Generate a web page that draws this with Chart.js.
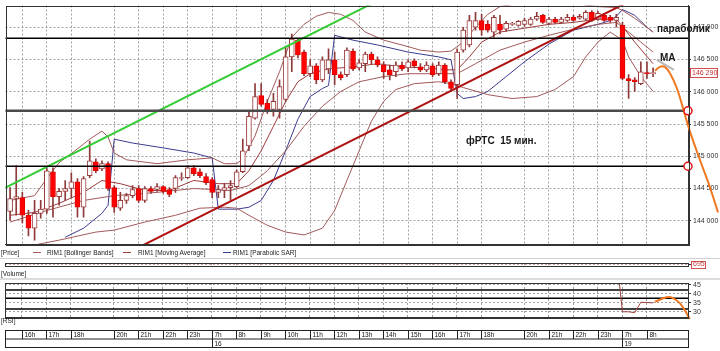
<!DOCTYPE html>
<html>
<head>
<meta charset="utf-8">
<script src="https://cdn.jsdelivr.net/npm/chart.js@4.4.1/dist/chart.umd.min.js"></script>
<style>
  body { margin: 0; background: #fff; }
  #wrap { position: relative; width: 720px; height: 351px; overflow: hidden; font-family: "Liberation Sans", Arial, sans-serif; }
  canvas { position: absolute; left: 0; }
  .t { position: absolute; font-size: 6.5px; line-height: 7px; color: #222; white-space: pre; }
  .note { position: absolute; font-size: 10px; line-height: 11px; font-weight: bold; color: #1a1a1a; white-space: pre; }
  .sep { position: absolute; left: 0; width: 720px; height: 1px; background: #d0d0d0; }
  .lg { position: absolute; width: 8px; height: 1px; }
</style>
</head>
<body>
<div id="wrap">
  <div class="sep" style="top:258px"></div>
  <div class="sep" style="top:278px;height:2px;background:#dcdcdc"></div>
  <canvas id="price" width="720" height="250" style="top:0;width:720px;height:250px"></canvas>
  <div class="t" style="left:1px;top:249px">[Price]</div>
  <div class="lg" style="left:33px;top:252px;background:#a35a5a"></div>
  <div class="t" style="left:47px;top:249px">RIM1 [Bollinger Bands]</div>
  <div class="lg" style="left:123px;top:252px;background:#9c3d3d"></div>
  <div class="t" style="left:138px;top:249px">RIM1 [Moving Average]</div>
  <div class="lg" style="left:223px;top:252px;background:#3b3b8f"></div>
  <div class="t" style="left:233px;top:249px">RIM1 [Parabolic SAR]</div>
  <canvas id="vol" width="720" height="14" style="top:256px;width:720px;height:14px"></canvas>
  <div class="t" style="left:1px;top:270px">[Volume]</div>
  <canvas id="rsi" width="720" height="71" style="top:280px;width:720px;height:71px"></canvas>
  <div class="t" style="left:1px;top:317px">[RSI]</div>
  <div class="note" style="left:657px;top:23px">параболик</div>
  <div class="note" style="left:660px;top:52px">МА</div>
  <div class="note" style="left:466px;top:135px">фРТС  15 мин.</div>
</div>
<script>
// 15 min candles, x = candle number
var xMin = -0.75, xMax = 110.7;
var hourIdx = [2, 6, 10, 17, 21, 25, 29, 33, 37, 41, 45, 49, 53, 57, 61, 65, 69, 73, 77, 84, 88, 92, 96, 100, 104];
var hourLabels = ['16h', '17h', '18h', '20h', '21h', '22h', '23h', '7h', '8h', '9h', '10h', '11h', '12h', '13h', '14h', '15h', '16h', '17h', '18h', '20h', '21h', '22h', '23h', '7h', '8h'];
var dayIdx = [33, 100];
var dayLabels = ['16', '19'];
var priceTicks = [144000, 144500, 145000, 145500, 146000, 146500, 147000];
var rsiTicks = [30, 35, 40, 45];

var opens = [144145,144345,144360,144085,143885,144115,144180,144760,144375,144455,
  144500,144605,144210,144700,144915,144805,144885,144515,144195,144315,
  144390,144500,144315,144500,144485,144530,144485,144500,144655,144670,
  144820,144760,144685,144640,144440,144470,144515,144530,144760,145160,
  145590,145940,145820,145725,145725,145880,146540,146800,146615,146280,
  146400,146185,146355,146495,146265,146265,146630,146370,146435,146585,
  146495,146415,146340,146310,146415,146370,146480,146385,146340,146400,
  146280,146415,146155,146110,146645,146725,147000,147105,147045,146925,
  147045,146970,147045,147030,147045,147045,147125,147185,147060,147125,
  147075,147105,147155,147140,147125,147230,147125,147185,147155,147105,
  147030,146205,146185,146125,146295,146280];
var highs = [144515,144855,144440,144160,144315,144315,144820,144820,144500,144625,
  144745,144655,144685,145235,144960,144930,144915,144545,144440,144425,
  144545,144545,144530,144530,144575,144545,144515,144700,144745,144855,
  144855,144805,144730,144670,144545,144575,144625,144790,145265,145695,
  146125,146125,145880,145975,146185,146695,146895,146830,146645,146495,
  146435,146540,146665,146615,146310,146680,146665,146495,146615,146615,
  146540,146465,146415,146465,146465,146495,146510,146435,146465,146435,
  146465,146435,146185,146665,147000,147185,147230,147200,147105,147185,
  147185,147090,147075,147105,147140,147155,147230,147200,147155,147155,
  147155,147200,147185,147200,147260,147260,147245,147215,147185,147200,
  147075,146265,146220,146465,146465,146370];
var lows = [144010,144085,143965,143765,143700,144040,144115,144055,144240,144315,
  144360,144055,144055,144670,144745,144775,144470,144130,144160,144270,
  144360,144285,144285,144425,144455,144425,144375,144440,144625,144655,
  144700,144670,144560,144360,144360,144360,144315,144515,144745,145085,
  145575,145775,145665,145620,145590,145850,146310,146525,146250,146235,
  146125,146155,146280,146110,146185,146235,146325,146340,146310,146435,
  146385,146205,146185,146235,146325,146310,146370,146310,146310,146235,
  146250,146125,146005,145895,146615,146695,146955,146875,146925,146845,
  146895,146940,147030,147015,147015,147030,147105,147060,147045,147060,
  147060,147090,147090,147125,147105,147090,147105,147090,147075,147000,
  146185,145895,146005,146110,146205,146235];
var closes = [144345,144375,144085,143885,144115,144180,144775,144375,144455,144500,
  144605,144210,144655,144930,144775,144885,144500,144210,144315,144390,
  144485,144315,144500,144455,144530,144455,144410,144670,144670,144820,
  144730,144700,144590,144440,144485,144515,144545,144760,145085,145620,
  145925,145805,145710,145850,146080,146540,146815,146570,146280,146400,
  146185,146495,146495,146265,146220,146645,146355,146450,146585,146495,
  146415,146310,146265,146415,146355,146465,146400,146340,146415,146265,
  146415,146155,146050,146615,146955,147105,147105,146955,146955,147155,
  146955,147060,147060,147090,147105,147125,147170,147075,147125,147075,
  147125,147155,147105,147170,147230,147105,147215,147105,147105,147155,
  146205,146170,146155,146310,146280,146290];

// indicators: [candle, price]
var bbUpper = [[0,144315],[4,144390],[6,144655],[8,144900],[11,145115],[13,145265],[15,145390],[16,145300],[17,145050],[19,144945],[24,144885],[29,144945],[33,144975],[35,144885],[37,144885],[38,144960],[40,145315],[42,145850],[44,146310],[46,146845],[48,147045],[50,147170],[52,147230],[54,147200],[56,147105],[58,146925],[61,146800],[64,146725],[67,146645],[70,146615],[72,146630],[74,146770],[76,147000],[78,147200],[80,147320],[84,147385],[88,147400],[92,147370],[96,147320],[99,147305],[100,147260],[102,147140],[105,146925]];
var bbMid = [[0,143980],[6,144160],[12,144315],[17,144390],[24,144440],[30,144500],[36,144470],[39,144545],[42,144775],[45,145085],[48,145465],[51,145775],[54,146005],[57,146155],[61,146235],[65,146280],[70,146280],[73,146280],[76,146435],[80,146645],[84,146770],[88,146875],[92,146970],[96,147045],[99,147075],[101,146925],[103,146770],[105,146615]];
var bbLower = [[0,143550],[8,143700],[14,143825],[17,143855],[22,143980],[27,144085],[31,144195],[35,144210],[37,144195],[39,144085],[42,143930],[45,143825],[48,143780],[51,143885],[53,144160],[55,144625],[57,145085],[59,145545],[61,145850],[63,146035],[66,146125],[70,146155],[72,146125],[74,146065],[78,145955],[82,145895],[86,145925],[89,146035],[92,146235],[94,146540],[96,146770],[98,146925],[100,146800],[101,146540],[103,146235],[105,146005]];
var maLine = [[0,144085],[4,144130],[8,144270],[12,144440],[15,144625],[18,144575],[22,144470],[26,144470],[30,144625],[34,144575],[37,144575],[39,144775],[41,145085],[43,145465],[45,145850],[47,146155],[49,146280],[52,146355],[56,146385],[60,146435],[64,146385],[68,146370],[71,146340],[73,146340],[75,146540],[77,146770],[80,146925],[84,146985],[88,147045],[92,147075],[96,147125],[99,147125],[100,147015],[102,146770],[105,146435]];
var sar = [[9,143745],[12,143885],[15,144115],[16,144240],[17,145265],[20,145205],[25,145130],[30,145050],[33,144975],[34,144180],[37,144180],[39,144210],[41,144315],[43,144625],[45,145085],[47,145575],[49,145925],[51,146050],[52,146095],[53,146875],[56,146800],[60,146725],[65,146615],[70,146540],[72,146495],[73,145975],[74,145895],[76,145925],[78,146005],[81,146235],[84,146465],[88,146740],[92,146955],[96,147045],[98,147105],[99,147170],[100,147275],[102,147185],[104,147000],[105,146925]];

// hand drawn marks
var trendGreen = [[-0.75,144515],[60,147410]];
var trendRed = [[21.78,143625],[101,147395]];
var levels = [146830, 145705, 144845];
var levelMarks = [145705, 144845];
var forecast = [[105.3,146325],[106.1,146385],[106.9,146385],[107.8,146280],[108.9,146050],[109.9,145740],[111.0,145390],[112.7,144930],[114.3,144515],[115.6,144130]];
var maMark = [[105.6,146495],[108.4,146340]];

var rsiIdx = [99, 100, 101, 102, 103, 104, 105];
var rsiVals = [62, 30, 30, 29.5, 35.3, 35.2, 35];
var rsiForecast = [[105.3,35.6],[107.2,38.1],[108,38.1],[109.4,34.7],[111,26]];
var rsiLevels = [42.2, 37.5, 31.5];
var volumeLast = 695;

function pts(a) {
    return a.map(function (p) { return { x: p[0], y: p[1] }; });
}
function fmt(v) {
    return String(Math.round(v)).replace(/\B(?=(\d{3})+(?!\d))/g, ' ');
}
function flatLine(v, color, w) {
    return {
        type: 'line', data: [{ x: xMin, y: v }, { x: xMax, y: v }],
        borderColor: color, borderWidth: w, pointRadius: 0, order: 2
    };
}
function thinLine(a, color) {
    return { type: 'line', data: pts(a), borderColor: color, borderWidth: 1, pointRadius: 0, order: 8 };
}
function timeAxis() {
    // range set after data limits so marks past the right edge are still drawn
    return {
        type: 'linear', bounds: 'data', offset: false,
        afterDataLimits: function (s) { s.min = xMin; s.max = xMax; },
        afterBuildTicks: function (s) { s.ticks = hourIdx.map(function (v) { return { value: v }; }); },
        ticks: { display: false },
        grid: { color: '#a0a0a0', drawTicks: false, offset: false },
        border: { color: '#333', dash: [2, 2] }
    };
}
function sideAxis(min, max, tickVals) {
    return {
        position: 'right', min: min, max: max, bounds: 'data',
        afterBuildTicks: function (s) { s.ticks = tickVals.map(function (v) { return { value: v }; }); },
        ticks: {
            padding: 2, color: '#333',
            font: { family: 'Liberation Sans', size: 7 },
            callback: function (v) { return fmt(v); }
        },
        grid: { color: '#a0a0a0', tickLength: 3, tickColor: '#333' },
        border: { color: '#333', dash: [2, 2] },
        afterFit: function (s) { s.width = 32; s.paddingTop = 0; s.paddingBottom = 0; }
    };
}

var frame = {
    id: 'frame',
    afterDatasetsDraw: function (chart) {
        var a = chart.chartArea, ctx = chart.ctx;
        ctx.save();
        ctx.strokeStyle = '#333';
        ctx.lineWidth = 1;
        ctx.strokeRect(Math.round(a.left) + 0.5, Math.round(a.top) + 0.5, Math.round(a.right - a.left), Math.round(a.bottom - a.top));
        ctx.restore();
    }
};

var lastPrice = {
    id: 'lastPrice',
    afterDraw: function (chart) {
        var ctx = chart.ctx, last = closes[closes.length - 1];
        var y = Math.round(chart.scales.y.getPixelForValue(last));
        var x0 = chart.chartArea.right + 2;
        ctx.save();
        ctx.fillStyle = '#fff';
        ctx.fillRect(x0, y - 5, 28, 10);
        ctx.strokeStyle = '#d05050';
        ctx.lineWidth = 1;
        ctx.strokeRect(x0 + 0.5, y - 4.5, 27, 9);
        ctx.fillStyle = '#c03030';
        ctx.font = '7px "Liberation Sans"';
        ctx.textBaseline = 'middle';
        ctx.fillText(fmt(last), x0 + 2, y + 0.5);
        ctx.restore();
    }
};

var volBox = {
    id: 'volBox',
    afterDraw: function (chart) {
        var ctx = chart.ctx;
        var y = Math.round(chart.scales.y.getPixelForValue(volumeLast));
        var x0 = chart.chartArea.right + 3;
        ctx.save();
        ctx.strokeStyle = '#d05050';
        ctx.lineWidth = 1;
        ctx.strokeRect(x0 + 0.5, y - 3.5, 14, 7);
        ctx.restore();
    }
};

var timeTable = {
    id: 'timeTable',
    afterDraw: function (chart) {
        var ctx = chart.ctx, xs = chart.scales.x, a = chart.chartArea;
        var top = Math.round(a.bottom) + 12.5, mid = top + 8.5, bot = mid + 8.5;
        ctx.save();
        ctx.strokeStyle = '#222';
        ctx.lineWidth = 1;
        ctx.strokeRect(Math.round(a.left) + 0.5, top, Math.round(a.right - a.left), bot - top);
        ctx.beginPath();
        ctx.moveTo(a.left, mid);
        ctx.lineTo(a.right, mid);
        ctx.stroke();
        ctx.font = '6.5px "Liberation Sans"';
        ctx.fillStyle = '#111';
        ctx.textBaseline = 'middle';
        hourIdx.forEach(function (v, k) {
            var px = Math.round(xs.getPixelForValue(v)) + 0.5;
            ctx.beginPath();
            ctx.moveTo(px, top);
            ctx.lineTo(px, mid);
            ctx.stroke();
            ctx.fillText(hourLabels[k], px + 2, (top + mid) / 2 + 0.5);
        });
        dayIdx.forEach(function (v, k) {
            var px = Math.round(xs.getPixelForValue(v)) + 0.5;
            ctx.beginPath();
            ctx.moveTo(px, mid);
            ctx.lineTo(px, bot);
            ctx.stroke();
            ctx.fillText(dayLabels[k], px + 2, (mid + bot) / 2 + 0.5);
        });
        ctx.restore();
    }
};

var isBull = function (i) { return closes[i] >= opens[i]; };

var priceChart = new Chart(document.getElementById('price').getContext('2d'), {
    type: 'bar',
    data: {
        datasets: [
            {
                label: 'body', order: 3, grouped: false, barThickness: 5, minBarLength: 1,
                borderWidth: 1, borderSkipped: false,
                data: opens.map(function (o, i) { return { x: i, y: [o, closes[i]] }; }),
                backgroundColor: function (c) { return isBull(c.dataIndex) ? '#ffffff' : '#ff0000'; },
                borderColor: function (c) { return isBull(c.dataIndex) ? '#9a3b3b' : '#e00000'; }
            },
            {
                label: 'wick', order: 4, grouped: false, barThickness: 1, borderWidth: 0,
                data: lows.map(function (l, i) { return { x: i, y: [l, highs[i]] }; }),
                backgroundColor: '#8f3a3a'
            },
            thinLine(bbUpper, '#a35a5a'),
            thinLine(bbMid, '#a35a5a'),
            thinLine(bbLower, '#a35a5a'),
            thinLine(maLine, '#9c3d3d'),
            thinLine(sar, '#3b3b8f'),
            flatLine(levels[0], '#000', 1.5),
            flatLine(levels[1], '#4a4a4a', 2.5),
            flatLine(levels[2], '#000', 1.5),
            { type: 'line', data: pts(trendGreen), borderColor: '#33cc33', borderWidth: 2, pointRadius: 0, order: 2 },
            { type: 'line', data: pts(trendRed), borderColor: '#b01010', borderWidth: 2, pointRadius: 0, order: 2 },
            { type: 'line', data: pts(maMark), borderColor: '#b8b8b8', borderWidth: 2, pointRadius: 0, order: 1, clip: false },
            {
                type: 'line', data: pts(forecast), borderColor: '#f07820', borderWidth: 2, tension: 0.4,
                pointRadius: 0, order: 1, clip: false
            },
            {
                type: 'line', data: pts(forecast.slice(-1)), showLine: false, order: 1, clip: false,
                pointStyle: 'triangle', pointRadius: 4, pointRotation: 162,
                pointBackgroundColor: '#f07820', pointBorderColor: '#f07820'
            },
            {
                type: 'line', data: levelMarks.map(function (v) { return { x: xMax, y: v }; }),
                showLine: false, order: 0, clip: false, pointRadius: 4, pointBorderWidth: 1.5,
                pointBorderColor: '#e01010', pointBackgroundColor: '#ffffff'
            }
        ]
    },
    options: {
        responsive: false, animation: false,
        layout: { padding: { left: 5, top: 3, right: 0, bottom: 6 } },
        plugins: { legend: { display: false }, tooltip: { enabled: false } },
        scales: {
            x: timeAxis(),
            y: sideAxis(143640, 147337, priceTicks)
        }
    },
    plugins: [frame, lastPrice]
});

var volY = sideAxis(0, volumeLast * 2, [volumeLast]);
volY.ticks.color = '#c04040';
volY.grid.color = '#d0a0a0';
var volChart = new Chart(document.getElementById('vol').getContext('2d'), {
    type: 'bar',
    data: { datasets: [] },
    options: {
        responsive: false, animation: false,
        layout: { padding: { left: 5, top: 7, right: 0, bottom: 4 } },
        plugins: { legend: { display: false }, tooltip: { enabled: false } },
        scales: { x: timeAxis(), y: volY }
    },
    plugins: [frame, volBox]
});

var rsiChart = new Chart(document.getElementById('rsi').getContext('2d'), {
    type: 'line',
    data: {
        datasets: [
            {
                data: rsiIdx.map(function (v, k) { return { x: v, y: rsiVals[k] }; }),
                borderColor: '#a04040', borderWidth: 1, pointRadius: 0, order: 2
            },
            flatLine(rsiLevels[0], '#000', 1.5),
            flatLine(rsiLevels[1], '#000', 1.5),
            flatLine(rsiLevels[2], '#000', 1.5),
            {
                data: pts(rsiForecast), borderColor: '#f07820', borderWidth: 2, tension: 0.4,
                pointRadius: 0, order: 1, clip: false
            }
        ]
    },
    options: {
        responsive: false, animation: false,
        layout: { padding: { left: 5, top: 3, right: 0, bottom: 33.5 } },
        plugins: { legend: { display: false }, tooltip: { enabled: false } },
        scales: { x: timeAxis(), y: sideAxis(26.8, 46.1, rsiTicks) }
    },
    plugins: [frame, timeTable]
});
</script>
</body>
</html>
